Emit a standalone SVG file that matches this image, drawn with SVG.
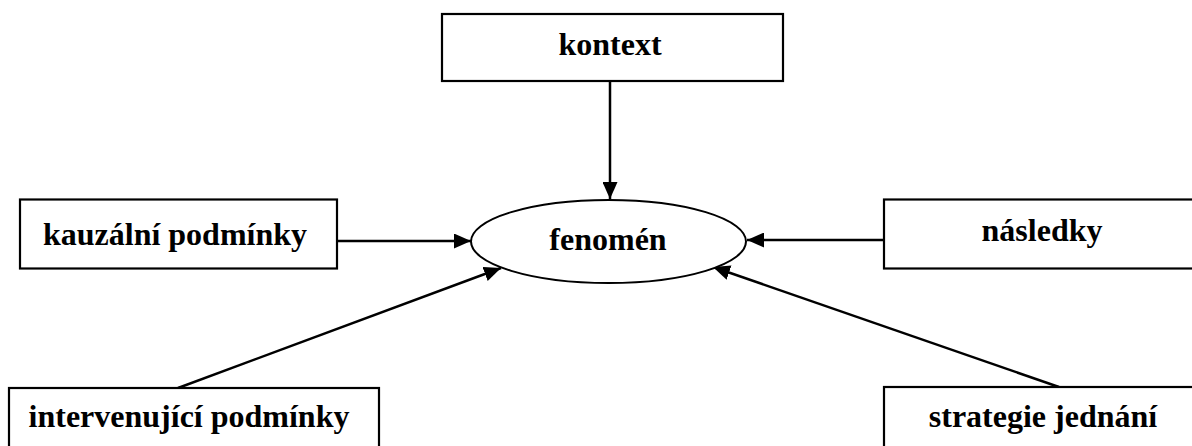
<svg xmlns="http://www.w3.org/2000/svg" width="1192" height="446" viewBox="0 0 1192 446">
<style>
  .box { fill: #fff; stroke: #000; stroke-width: 2.2; }
  .ell { fill: #fff; stroke: #000; stroke-width: 2; }
  .lbl { font-family: "Liberation Serif", "Times New Roman", serif; font-weight: bold; font-size: 32px; fill: #000; text-anchor: middle; }
  .conn { stroke: #000; stroke-width: 2.5; fill: none; marker-end: url(#arr); }
</style>
<defs>
  <marker id="arr" markerUnits="userSpaceOnUse" markerWidth="17" markerHeight="15" refX="17" refY="7.5" orient="auto">
    <path d="M0,0 L17,7.5 L0,15 z" fill="#000"/>
  </marker>
</defs>
<rect width="1192" height="446" fill="#fff"/>
<g id="connectors">
  <line class="conn" x1="610" y1="81" x2="610" y2="199"/>
  <line class="conn" x1="337" y1="241" x2="471" y2="241"/>
  <line class="conn" x1="884" y1="240" x2="747" y2="240"/>
  <line class="conn" x1="178" y1="388" x2="501" y2="268"/>
  <line class="conn" x1="1059" y1="387" x2="713" y2="267"/>
</g>
<g id="kontext">
  <rect class="box" x="442" y="14" width="341" height="67"/>
  <text class="lbl" x="610" y="55">kontext</text>
</g>
<g id="fenomen">
  <ellipse class="ell" cx="608.5" cy="241.5" rx="137.5" ry="41.5"/>
  <text class="lbl" x="608" y="250">fenomén</text>
</g>
<g id="kauzalni">
  <rect class="box" x="20" y="199.5" width="317" height="69"/>
  <text class="lbl" x="175" y="245">kauzální podmínky</text>
</g>
<g id="nasledky">
  <rect class="box" x="884" y="199.5" width="320" height="69"/>
  <text class="lbl" x="1042" y="241">následky</text>
</g>
<g id="intervenujici">
  <rect class="box" x="9" y="388" width="370" height="80"/>
  <text class="lbl" x="189" y="427">intervenující podmínky</text>
</g>
<g id="strategie">
  <rect class="box" x="884" y="387" width="320" height="80"/>
  <text class="lbl" x="1043" y="427">strategie jednání</text>
</g>
</svg>
